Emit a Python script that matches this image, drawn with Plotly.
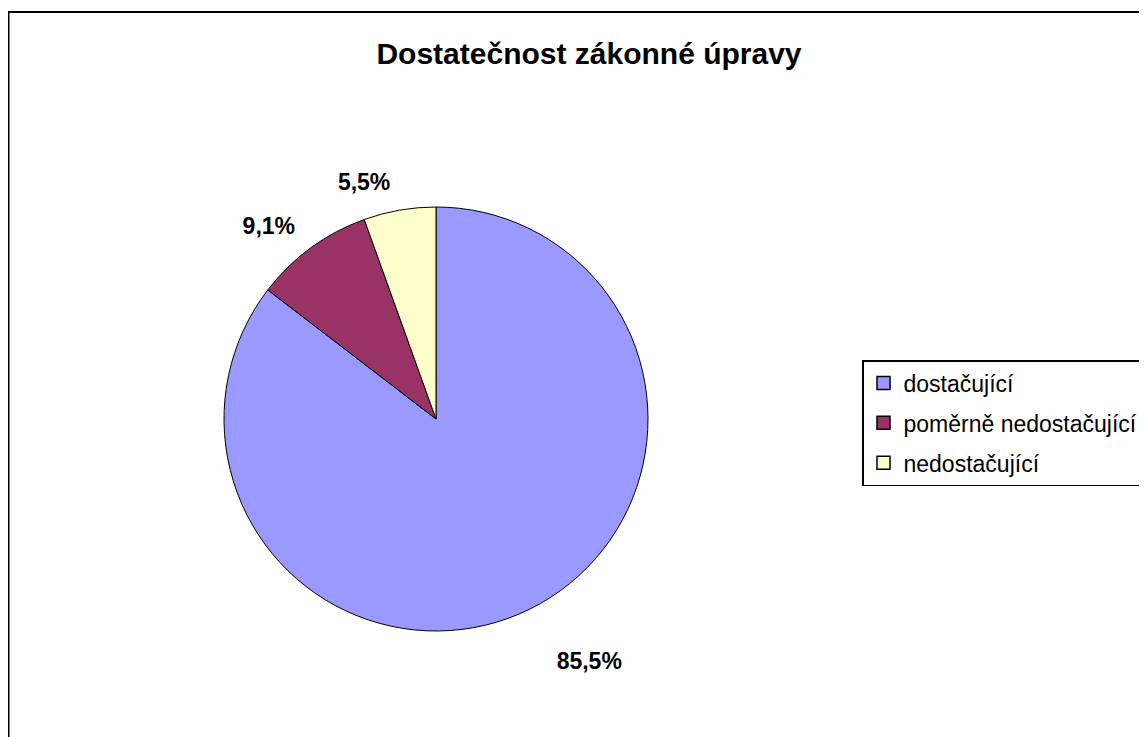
import plotly.graph_objects as go

categories = ["dostačující", "poměrně nedostačující", "nedostačující"]
values = [85.5, 9.1, 5.5]
value_labels = ["85,5%", "9,1%", "5,5%"]
colors = ["#9999FF", "#993366", "#FFFFCC"]

W, H = 1147, 737
OFF = 8  # page body margin of the browser

FONT = "Liberation Sans, Arial, sans-serif"

cx, cy, r = 436 - OFF, 419 - OFF, 212


def dom(rad):
    return dict(x=[(cx - rad) / W, (cx + rad) / W],
                y=[(H - (cy + rad)) / H, (H - (cy - rad)) / H])


fig = go.Figure()

# invisible, slightly larger pies that only carry the outside percentage labels
label_sets = [
    (258, [value_labels[0], "", ""]),
    (228, ["", value_labels[1], value_labels[2]]),
]
for rad, txt in label_sets:
    fig.add_trace(go.Pie(
        labels=categories,
        values=values,
        text=txt,
        textinfo="text",
        textposition="outside",
        textfont=dict(family=FONT, size=23, color="black", weight="bold"),
        marker=dict(colors=["rgba(0,0,0,0)"] * 3, line=dict(width=0)),
        sort=False,
        direction="clockwise",
        rotation=0,
        domain=dom(rad),
        showlegend=False,
        hoverinfo="skip",
    ))

fig.add_trace(go.Pie(
    labels=categories,
    values=values,
    textinfo="none",
    marker=dict(colors=colors, line=dict(color="black", width=1)),
    sort=False,
    direction="clockwise",
    rotation=0,
    domain=dom(r),
    showlegend=False,
))

# legend entries
for i, (name, col) in enumerate(zip(categories, colors)):
    fig.add_trace(go.Scatter(
        x=[None], y=[None], mode="markers", name=name,
        legendgroup=f"g{i}",
        marker=dict(symbol="square", size=13, color=col,
                    line=dict(color="black", width=1.5)),
        showlegend=True,
    ))

fig.update_layout(
    width=W, height=H,
    margin=dict(l=0, r=0, t=0, b=0),
    paper_bgcolor="white",
    plot_bgcolor="white",
    xaxis=dict(visible=False),
    yaxis=dict(visible=False),
    title=dict(
        text="<b>Dostatečnost zákonné úpravy</b>",
        x=(589 - OFF) / W, xanchor="center",
        y=(H - (53 - OFF)) / H, yanchor="middle",
        font=dict(family=FONT, size=30, color="black"),
    ),
    legend=dict(
        x=(862 - OFF) / W, xanchor="left",
        y=(H - (360 - OFF)) / H, yanchor="top",
        bgcolor="white",
        bordercolor="black",
        borderwidth=1.5,
        itemwidth=30,
        tracegroupgap=7,
        font=dict(family=FONT, size=23, color="black"),
    ),
    shapes=[dict(
        type="rect", xref="paper", yref="paper",
        x0=0.5 / W, x1=1.05, y0=-0.05, y1=(H - 4) / H,
        line=dict(color="black", width=2),
        fillcolor="rgba(0,0,0,0)",
        layer="below",
    )],
)

fig.write_html("out.html")
